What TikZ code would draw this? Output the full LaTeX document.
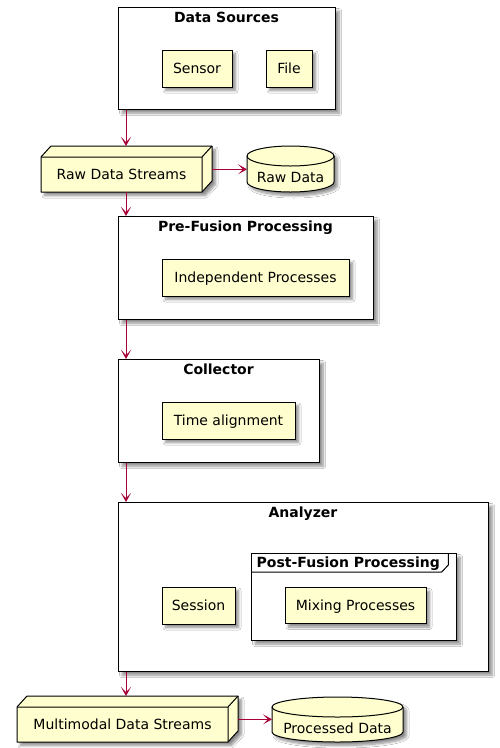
\documentclass[tikz,border=0pt]{standalone}
\usepackage{fontspec}
\setmainfont{DejaVu Sans}
\usetikzlibrary{arrows.meta,shadows.blur}
\definecolor{umlfill}{HTML}{FEFECE}
\definecolor{umlarrow}{HTML}{A80036}
\begin{document}
\begin{tikzpicture}[x=1pt,y=1pt,
  shd/.style={blur shadow={shadow xshift=3.5pt,shadow yshift=-3.5pt,shadow blur radius=2.5pt,shadow blur steps=8,shadow opacity=45}},
  comp/.style={draw=black,fill=umlfill,line width=1pt,shd,inner sep=0pt,
    text height=10.2pt,text depth=0pt,font=\fontsize{14}{16}\selectfont},
  lbl/.style={inner sep=0pt,text height=10.2pt,text depth=0pt,font=\fontsize{14}{16}\selectfont},
  frm/.style={draw=black,fill=white,line width=1.25pt,shd,inner sep=0pt,anchor=north west},
  ttl/.style={font=\fontsize{14}{16}\selectfont\bfseries,inner sep=0pt,anchor=base},
  solid3d/.style={draw=black,fill=umlfill,line width=1pt,line join=round},
  edge3d/.style={line width=1pt,line join=round},
  conn/.style={draw=umlarrow,line width=1pt,-{Stealth[length=9pt,width=10pt,inset=5pt]}}]
\useasboundingbox[fill=white] (0,0) rectangle (499,-748);

% ---------- Data Sources
\node[frm,minimum width=217pt,minimum height=102pt] (ds) at (118,-7) {};
\node[ttl] (dst) at (226.5,-22.5) {Data Sources};
\node[comp,minimum width=70pt,minimum height=37pt] (sensor) at (197,-68.5) {Sensor};
\node[comp,minimum width=46pt,minimum height=37pt] (file) at (289,-68.5) {File};

% ---------- Raw Data Streams (3D box)
\coordinate (rdsA) at (41,-157);
\coordinate (rdsB) at (51,-146);
\coordinate (rdsC) at (212,-146);
\coordinate (rdsD) at (212,-181);
\coordinate (rdsE) at (202,-192);
\coordinate (rdsF) at (41,-192);
\coordinate (rdsG) at (202,-157);
\path[solid3d,shd] (rdsA) -- (rdsB) -- (rdsC) -- (rdsD) -- (rdsE) -- (rdsF) -- cycle;
\draw[edge3d] (rdsA) -- (rdsG) -- (rdsE) (rdsG) -- (rdsC);
\node[lbl] (rds) at (121.5,-174.5) {Raw Data Streams};
\coordinate (rdsR) at (212,-169.3);

% ---------- Raw Data (database)
\path[solid3d,shd] (247,-156) -- (247,-182) arc[start angle=180,end angle=360,x radius=43.5,y radius=10]
  -- (334,-156) arc[start angle=0,end angle=180,x radius=43.5,y radius=10] -- cycle;
\draw[edge3d] (247,-156) arc[start angle=180,end angle=360,x radius=43.5,y radius=10];
\node[lbl] (rawdata) at (290.5,-177.8) {Raw Data};
\coordinate (rawL) at (247,-169.3);

% ---------- Pre-Fusion Processing
\node[frm,minimum width=255pt,minimum height=103pt] (pf) at (118,-216) {};
\node[ttl] (pft) at (245.5,-231.5) {Pre-Fusion Processing};
\node[comp,minimum width=187pt,minimum height=37pt] (indep) at (255.5,-277.5) {Independent Processes};

% ---------- Collector
\node[frm,minimum width=201pt,minimum height=103pt] (col) at (118,-359) {};
\node[ttl] (colt) at (218.5,-374.5) {Collector};
\node[comp,minimum width=133pt,minimum height=37pt] (time) at (228.5,-420.5) {Time alignment};

% ---------- Analyzer
\node[frm,minimum width=370pt,minimum height=169pt] (an) at (118,-502) {};
\node[ttl] (ant) at (303,-517.5) {Analyzer};
\node[comp,minimum width=73pt,minimum height=37pt] (session) at (198.5,-605.5) {Session};
\node[frm,minimum width=205pt,minimum height=87pt] (post) at (251,-553) {};
\draw[line width=1pt,line join=round] (post.west |- 0,-572) -- (441.7,-572) -- (448.3,-565) -- (448.3,-553);
\node[ttl,anchor=base west] (postt) at (256.5,-567) {Post-Fusion Processing};
\node[comp,minimum width=141pt,minimum height=36pt] (mix) at (355.5,-605.5) {Mixing Processes};

% ---------- Multimodal Data Streams (3D box)
\coordinate (mdsA) at (17,-707);
\coordinate (mdsB) at (27,-696);
\coordinate (mdsC) at (238,-696);
\coordinate (mdsD) at (238,-731);
\coordinate (mdsE) at (228,-742);
\coordinate (mdsF) at (17,-742);
\coordinate (mdsG) at (228,-707);
\path[solid3d,shd] (mdsA) -- (mdsB) -- (mdsC) -- (mdsD) -- (mdsE) -- (mdsF) -- cycle;
\draw[edge3d] (mdsA) -- (mdsG) -- (mdsE) (mdsG) -- (mdsC);
\node[lbl] (mds) at (122.5,-724.3) {Multimodal Data Streams};
\coordinate (mdsR) at (238,-719.3);

% ---------- Processed Data (database)
\path[solid3d,shd] (272,-707) -- (272,-732) arc[start angle=180,end angle=360,x radius=65.5,y radius=10]
  -- (403,-707) arc[start angle=0,end angle=180,x radius=65.5,y radius=10] -- cycle;
\draw[edge3d] (272,-707) arc[start angle=180,end angle=360,x radius=65.5,y radius=10];
\node[lbl] (procdata) at (337.5,-728.3) {Processed Data};
\coordinate (procL) at (272,-719.3);

% ---------- connectors
\draw[conn] ([xshift=8pt]ds.south west) -- ([xshift=8pt]ds.south west |- rdsB);
\draw[conn] (rdsR) -- (rawL);
\draw[conn] ([xshift=8pt]pf.north west |- rdsF) -- ([xshift=8pt]pf.north west);
\draw[conn] ([xshift=8pt]pf.south west) -- ([xshift=8pt]col.north west);
\draw[conn] ([xshift=8pt]col.south west) -- ([xshift=8pt]an.north west);
\draw[conn] ([xshift=8pt]an.south west) -- ([xshift=8pt]an.south west |- mdsB);
\draw[conn] (mdsR) -- (procL);
\end{tikzpicture}
\end{document}
